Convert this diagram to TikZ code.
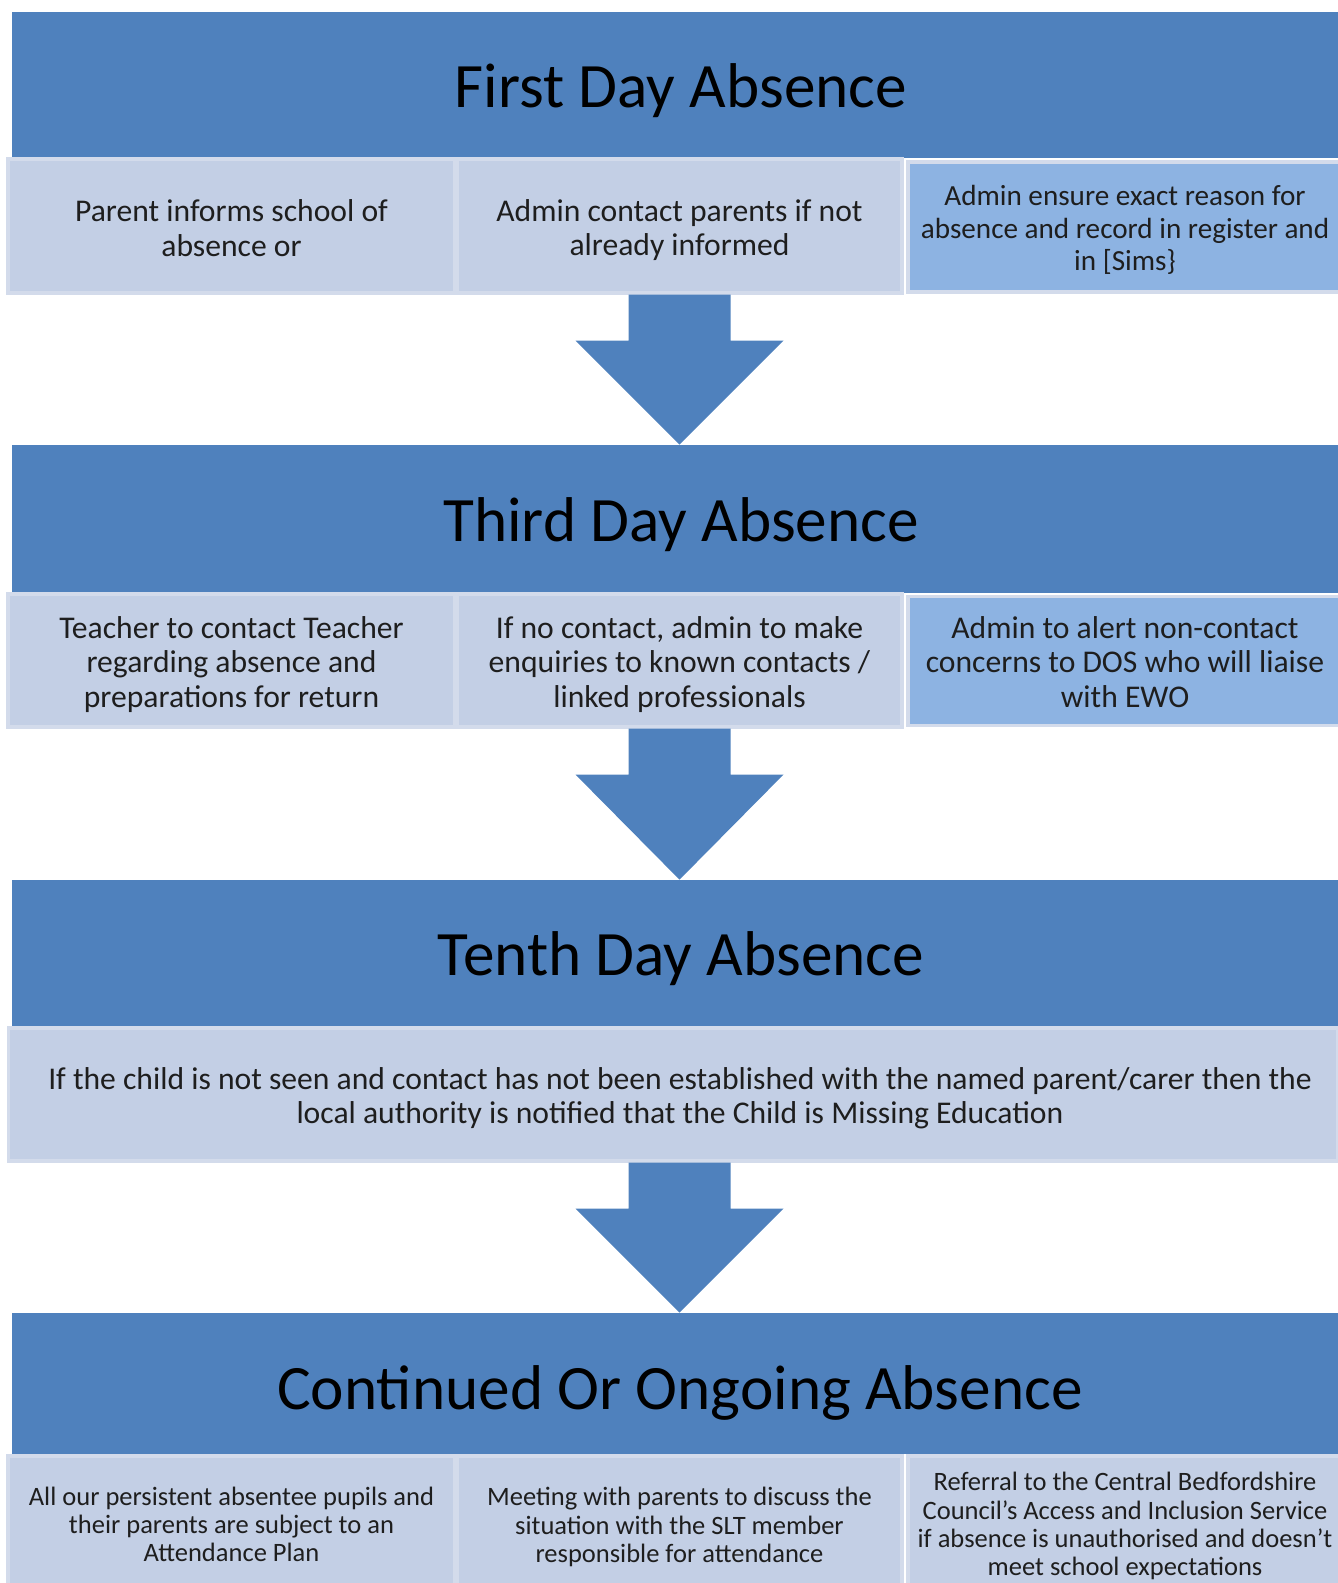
\documentclass[tikz,border=0pt]{standalone}
\usepackage{fontspec}
\setmainfont{Carlito}
\usepackage{tikz}
\usetikzlibrary{calc}
\usetikzlibrary{positioning}
\definecolor{headblue}{HTML}{4F81BD}
\definecolor{cellblue}{HTML}{C3CFE5}
\definecolor{darkcell}{HTML}{8DB3E2}
\definecolor{cellline}{HTML}{D3DBEB}
\definecolor{textgray}{HTML}{1E1E1E}
\tikzset{%
    headbox/.style={fill=headblue,draw=none,inner sep=0pt,text height=31pt,
        font={\fontsize{36}{42}\selectfont},text=black},
    cellbox/.style={fill=cellblue,draw=cellline,line width=1.8pt,inner sep=0pt},
    darkbox/.style={cellbox,fill=darkcell},
    celltext/.style={align=center,text=textgray,inner sep=0pt,
        font={\fontsize{18}{19.5}\selectfont}},
    smalltext/.style={celltext,font={\fontsize{16.6}{18.3}\selectfont}},
    tinytext/.style={celltext,font={\fontsize{15.1}{16}\selectfont}},
}
% block arrow from the bottom of a row down to the next header
\newcommand{\flowarrow}[2]{%
    \fill[headblue] ($(#1)+(-51,0)$) -- ($(#1)+(51,0)$) -- ($(#1)+(51,46)$)
        -- ($(#1)+(104,46)$) -- (#1 |- #2) -- ($(#1)+(-104,46)$)
        -- ($(#1)+(-51,46)$) -- cycle;
}

\begin{document}
\begin{tikzpicture}[x=0.02cm, y=-0.02cm]
    \useasboundingbox (0,0) rectangle (1338,1583);
    \clip (0,0) rectangle (1338,1583);
    % headers
    \node[headbox,minimum width=26.52cm,minimum height=2.92cm] (first) at (675,85) {};
    \node[headbox,minimum width=26.52cm,minimum height=2.96cm] (third) at (675,519) {};
    \node[headbox,minimum width=26.52cm,minimum height=2.94cm] (tenth) at (675,953.5) {};
    \node[headbox,minimum width=26.52cm,minimum height=2.82cm] (ongoing) at (675,1383.5) {};
    \node[headbox,fill=none] (firsttitle) at ($(first)+(6,0)$) {First Day Absence};
    \node[headbox,fill=none] (thirdtitle) at ($(third)+(6,0)$) {Third Day Absence};
    \node[headbox,fill=none] (tenthtitle) at ($(tenth)+(6,0)$) {Tenth Day Absence};
    \node[headbox,fill=none,text height=36pt] (ongoingtitle) at ($(ongoing)+(5,0)$) {Continued Or Ongoing Absence};
    % first day row
    \node[cellbox,minimum width=8.94cm,minimum height=2.68cm] (parent) at (231.5,226) {};
    \node[cellbox,minimum width=8.9cm,minimum height=2.68cm] (contact) at (679.5,226) {};
    \node[darkbox,minimum width=8.68cm,minimum height=2.6cm] (record) at (1125,227) {};
    \node[celltext] (parenttext) at ($(parent)+(0,2)$) {Parent informs school of\\absence or};
    \node[celltext] (contacttext) at ($(contact)+(0,4)$) {Admin contact parents if not\\already informed};
    \node[smalltext] (recordtext) at ($(record)+(0,3)$) {Admin ensure exact reason for\\absence and record in register and\\in [Sims\}};
    % third day row
    \node[cellbox,minimum width=8.94cm,minimum height=2.66cm] (teacher) at (231.5,660.5) {};
    \node[cellbox,minimum width=8.9cm,minimum height=2.66cm] (enquiry) at (679.5,660.5) {};
    \node[darkbox,minimum width=8.68cm,minimum height=2.58cm] (alert) at (1125,661) {};
    \node[celltext] (teachertext) at ($(teacher)+(0,4)$) {Teacher to contact Teacher\\regarding absence and\\preparations for return};
    \node[celltext] (enquirytext) at ($(enquiry)+(0,4)$) {If no contact, admin to make\\enquiries to known contacts /\\linked professionals};
    \node[celltext] (alerttext) at ($(alert)+(0,1)$) {Admin to alert non-contact\\concerns to DOS who will liaise\\with EWO};
    % tenth day row
    \node[cellbox,minimum width=26.6cm,minimum height=2.66cm] (missing) at (673,1094.5) {};
    \node[celltext] (missingtext) at ($(missing)+(7,4)$) {If the child is not seen and contact has not been established with the named parent/carer then the\\local authority is notified that the Child is Missing Education};
    % ongoing row
    \node[cellbox,minimum width=8.94cm,minimum height=2.72cm] (plan) at (231.5,1524) {};
    \node[cellbox,minimum width=8.9cm,minimum height=2.72cm] (meeting) at (679.5,1524) {};
    \node[cellbox,minimum width=8.68cm,minimum height=2.72cm] (referral) at (1125,1524) {};
    \node[tinytext] (plantext) at (plan) {All our persistent absentee pupils and\\their parents are subject to an\\Attendance Plan};
    \node[tinytext] (meetingtext) at ($(meeting)+(0,3)$) {Meeting with parents to discuss the\\situation with the SLT member\\responsible for attendance};
    \node[tinytext] (referraltext) at ($(referral)+(0,2)$) {Referral to the Central Bedfordshire\\Council’s Access and Inclusion Service\\if absence is unauthorised and doesn’t\\meet school expectations};
    % arrows
    \coordinate (tenthend) at (missing.south -| enquiry.south);
    \flowarrow{contact.south}{third.north}
    \flowarrow{enquiry.south}{tenth.north}
    \flowarrow{tenthend}{ongoing.north}
\end{tikzpicture}
\end{document}
